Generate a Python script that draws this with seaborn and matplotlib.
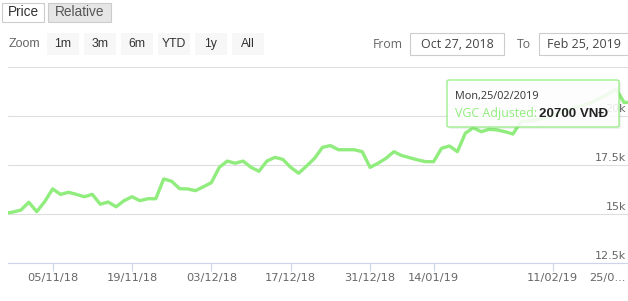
import matplotlib
matplotlib.use("Agg")
import matplotlib.pyplot as plt
import matplotlib.transforms as mtransforms
import seaborn as sns
import pandas as pd
from matplotlib.patches import Rectangle, FancyBboxPatch

# ---------------- data ----------------
prices = [
    15030, 15100, 15200, 15600, 15120, 15630, 16280, 16000, 16110, 16000,
    15880, 16000, 15500, 15610, 15370, 15680, 15880, 15680, 15780, 15780,
    16790, 16670, 16290, 16280, 16190, 16390, 16600, 17380, 17700, 17590,
    17700, 17380, 17180, 17700, 17890, 17790, 17380, 17080, 17450, 17840,
    18400, 18490, 18280, 18280, 18280, 18180, 17380, 17590, 17840, 18180,
    17980, 17870, 17760, 17670, 17670, 18350, 18470, 18180, 19120, 19400,
    19200, 19320, 19290, 19200, 19080, 19710, 19750, 19800, 19900, 20000,
    20200, 20310, 20460, 20560, 20710, 20920, 21120, 21380, 20690, 20700,
]
tick_positions = [6, 16, 26, 36, 46, 54, 69, 79]
tick_labels = ["05/11/18", "19/11/18", "03/12/18", "17/12/18",
               "31/12/18", "14/01/19", "11/02/19", "25/0..."]
y_ticks = [12500, 15000, 17500, 20000, 22500]
y_tick_labels = ["12.5k", "15k", "17.5k", "20k", ""]
tabs = ["Price", "Relative"]
range_buttons = ["1m", "3m", "6m", "YTD", "1y", "All"]
date_from = "Oct 27, 2018"
date_to = "Feb 25, 2019"
series_name = "VGC Adjusted"
tooltip_date = "Mon,25/02/2019"
currency = "VNĐ"

# ---------------- figure ----------------
W, H = 628, 301
sns.set_theme(style="white")
plt.rcParams["font.family"] = ["Open Sans", "DejaVu Sans"]
fig = plt.figure(figsize=(W / 100, H / 100), dpi=100)
fig.patch.set_facecolor("white")


def fx(px):
    return px / W


def fy(py):
    return 1 - py / H


LINE = "#90ed7d"
GRID = "#dedede"
AXIS = "#ccd6eb"
ARIAL = ["Liberation Sans", "DejaVu Sans"]
DEJAVU = ["DejaVu Sans"]

# plot area
ax_right_px = 632
ax = fig.add_axes([fx(8), fy(263), (ax_right_px - 8) / W, (263 - 67) / H])
df = pd.DataFrame({"idx": list(range(len(prices))), "price": prices})
sns.lineplot(data=df, x="idx", y="price", ax=ax, color=LINE, linewidth=2.4)
ax.set_xlim(3 / 7.94, 627 / 7.94)
ax.set_ylim(12500, 22500)
ax.set_xlabel("")
ax.set_ylabel("")
for s in ["top", "left", "right"]:
    ax.spines[s].set_visible(False)
ax.spines["bottom"].set_color(AXIS)
ax.spines["bottom"].set_linewidth(0.8)

# y gridlines from ticks; labels drawn inside the plot on the right
ax.set_yticks(y_ticks)
ax.grid(axis="y", color=GRID, linewidth=0.8)
ax.grid(axis="x", visible=False)
ax.tick_params(axis="y", left=False, right=False, labelleft=False, labelright=False)
ylab_tr = mtransforms.blended_transform_factory(fig.transFigure, ax.transData)
for val, lab in zip(y_ticks, y_tick_labels):
    if lab:
        ax.text(fx(626), val, lab, transform=ylab_tr + mtransforms.ScaledTranslation(
            0, 2 / 100, fig.dpi_scale_trans), ha="right", va="bottom", fontsize=8,
            color="#666666", family=DEJAVU, zorder=1)

ax.set_xticks(tick_positions, tick_labels)
ax.tick_params(axis="x", bottom=True, length=5.8, width=0.8, color=AXIS, pad=1.5,
               labelsize=8.2, labelcolor="#666666")
xl = ax.xaxis.get_majorticklabels()
for lb in xl:
    lb.set_fontfamily(DEJAVU)
xl[-1].set_horizontalalignment("right")
xl[-1].set_transform(xl[-1].get_transform() +
                     mtransforms.ScaledTranslation(-6 / 100, 0, fig.dpi_scale_trans))

# ---------------- header widgets ----------------
def rect(x0, y0, x1, y1, fc, ec="none", lw=0.8):
    fig.patches.append(Rectangle((fx(x0), fy(y1)), fx(x1) - fx(x0), fy(y0) - fy(y1),
                                 transform=fig.transFigure, facecolor=fc,
                                 edgecolor=ec, linewidth=lw))

# tabs
tab_box = [(2, 44, "white", "#333333"), (48, 111, "#e6e6e6", "#555555")]
for name, (x0, x1, fc, tc) in zip(tabs, tab_box):
    rect(x0, 3, x1, 22, fc, "#cccccc")
    fig.text(fx((x0 + x1) / 2), fy(12.5), name, ha="center", va="center",
             fontsize=9.8, color=tc, family=ARIAL)

# zoom buttons
fig.text(fx(9), fy(44), "Zoom", ha="left", va="center", fontsize=9.0,
         color="#666666", family=ARIAL)
btn_x = [47, 84, 121, 158, 195, 232]
for name, x0 in zip(range_buttons, btn_x):
    rect(x0, 33, x0 + 32, 55, "#f7f7f7")
    fig.text(fx(x0 + 16), fy(44), name, ha="center", va="center", fontsize=8.8,
             color="#333333", family=ARIAL)

# date range inputs
fig.text(fx(373), fy(44), "From", ha="left", va="center", fontsize=8.8, color="#666666")
rect(410, 33, 504, 55, "white", "#cccccc")
fig.text(fx(457), fy(44), date_from, ha="center", va="center", fontsize=9.0, color="#444444")
fig.text(fx(517), fy(44), "To", ha="left", va="center", fontsize=8.8, color="#666666")
rect(539, 33, 640, 55, "white", "#cccccc")
fig.text(fx(547), fy(44), date_to, ha="left", va="center", fontsize=9.0, color="#444444")

# ---------------- tooltip ----------------
shadow = FancyBboxPatch((fx(449), fy(129)), fx(619) - fx(447), fy(80) - fy(127),
                        boxstyle="round,pad=0,rounding_size=0.004",
                        transform=fig.transFigure, facecolor="#000000", alpha=0.06,
                        edgecolor="none")
fig.patches.append(shadow)
tip = FancyBboxPatch((fx(447), fy(127)), fx(619) - fx(447), fy(80) - fy(127),
                     boxstyle="round,pad=0,rounding_size=0.004",
                     transform=fig.transFigure, facecolor="white", alpha=0.88,
                     edgecolor=LINE, linewidth=1.0)
fig.patches.append(tip)
fig.text(fx(455), fy(96), tooltip_date, ha="left", va="center", fontsize=7.8, color="#333333")
fig.text(fx(455), fy(114), series_name + ":", ha="left", va="center", fontsize=8.9,
         color=LINE)
fig.text(fx(539), fy(114), f"{prices[-1]} {currency}", ha="left", va="center",
         fontsize=9.6, color="#222222", fontweight="bold", family=ARIAL)

fig.savefig("out.png", dpi=100)
